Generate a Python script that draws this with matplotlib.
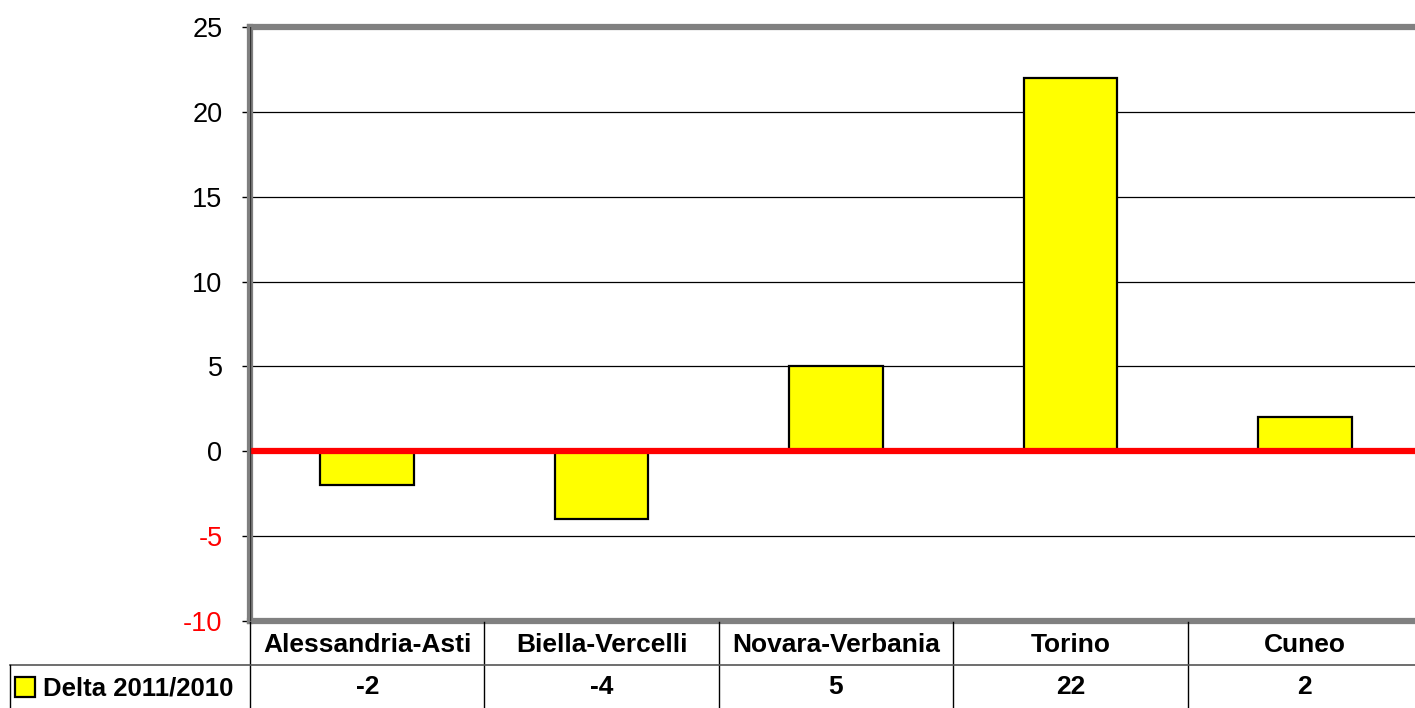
import matplotlib.pyplot as plt
from matplotlib.lines import Line2D
from matplotlib.patches import Rectangle

# ── Dati ──────────────────────────────────────────────────
categorie = ["Alessandria-Asti", "Biella-Vercelli", "Novara-Verbania", "Torino", "Cuneo"]
delta = [-2, -4, 5, 22, 2]
serie = "Delta 2011/2010"
yticks = [-10, -5, 0, 5, 10, 15, 20, 25]

plt.rcParams['font.family'] = ['Liberation Sans', 'DejaVu Sans']

W, H = 1415, 708
fig = plt.figure(figsize=(W / 100, H / 100), dpi=100)

# axes in pixel coordinates of the reference
left, right, top, bottom = 250, 1422, 27, 621
ax = fig.add_axes([left / W, (H - bottom) / H, (right - left) / W, (bottom - top) / H])

x = range(len(categorie))
ax.bar(x, delta, width=0.4, color="#FFFF00", edgecolor="black", linewidth=1.6, zorder=3)
ax.axhline(0, color="#FF0000", linewidth=4.5, zorder=4, solid_capstyle="round")

ax.set_xlim(-0.5, len(categorie) - 0.5)
ax.set_ylim(-10, 25)
ax.set_yticks(yticks)
ax.set_yticklabels([str(t) for t in yticks], fontsize=19.5)
for lab, t in zip(ax.get_yticklabels(), yticks):
    lab.set_color("#FF0000" if t < 0 else "black")
ax.tick_params(axis="y", length=5.8, width=1, pad=14, direction="out")
ax.set_xticks([])

for t in yticks:
    if t not in (-10, 0, 25):
        ax.axhline(t, color="black", linewidth=0.9, zorder=1)

for s in ["left", "top", "bottom"]:
    ax.spines[s].set_color("#808080")
    ax.spines[s].set_linewidth(4.5)
ax.spines["right"].set_visible(False)
ax.axvline(-0.5, color="#333333", linewidth=1.0, zorder=5)

# ── Tabella dati ──────────────────────────────────────────
def fx(px):
    return px / W

def fy(py):
    return 1 - py / H

row1, row2, row3 = 622, 665, 708
col_w = (right - left) / len(categorie)

# vertical lines
for i in range(len(categorie)):
    xe = left + i * col_w
    fig.add_artist(Line2D([fx(xe), fx(xe)], [fy(row1), fy(row3)], color="black", linewidth=1.0))
# horizontal separator
fig.add_artist(Line2D([fx(10), fx(W)], [fy(row2), fy(row2)], color="#555555", linewidth=1.2))
fig.add_artist(Line2D([fx(10), fx(10)], [fy(row2), fy(row3)], color="black", linewidth=1.0))

for i, (c, v) in enumerate(zip(categorie, delta)):
    xc = left + (i + 0.5) * col_w
    fig.text(fx(xc), fy((row1 + row2) / 2 + 1), c, ha="center", va="center",
             fontsize=19, fontweight="bold")
    fig.text(fx(xc), fy((row2 + row3) / 2 + 1), str(v), ha="center", va="center",
             fontsize=19, fontweight="bold")

# legend key
fig.add_artist(Rectangle((fx(15), fy(697)), fx(20), 20 / H, facecolor="#FFFF00",
                         edgecolor="black", linewidth=1.6))
fig.text(fx(43), fy(688), serie, ha="left", va="center", fontsize=18.5, fontweight="bold")

fig.savefig("out.png", dpi=100)
